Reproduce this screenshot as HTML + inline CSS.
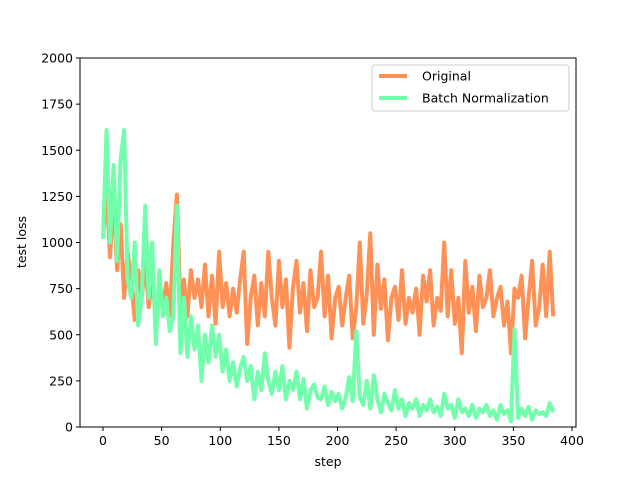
<!DOCTYPE html>
<html><head><meta charset="utf-8"><style>
body{margin:0;background:#fff}
svg{font-family:"DejaVu Sans","Liberation Sans",sans-serif}
</style></head><body>
<svg id="chart" width="640" height="480" xmlns="http://www.w3.org/2000/svg">
<rect width="640" height="480" fill="#fff"/>
<g id="plot"></g>
<g id="axes"></g>
</svg>
<script>
const steps = [];
for (let s = 0; s <= 384; s += 3) steps.push(s);
const originalLoss = [1020,1300,920,1250,850,1100,700,950,800,580,850,700,900,650,800,600,750,650,780,600,1000,1260,650,800,600,850,700,800,650,880,600,820,560,950,650,780,600,750,620,800,950,450,700,820,550,780,600,950,700,550,900,650,800,430,750,900,620,780,520,850,650,700,950,600,820,480,700,760,550,700,820,480,650,1000,560,720,1050,500,880,640,800,470,700,760,580,850,560,700,620,750,500,820,680,850,550,700,630,1000,600,850,560,700,400,900,620,760,520,820,650,700,850,600,700,760,550,680,400,750,700,820,480,700,900,550,650,880,600,950,600];
const batchNormLoss = [1020,1610,1000,1420,900,1450,1610,800,700,1000,550,700,1200,700,1000,450,850,600,700,520,600,1200,400,700,380,600,420,550,250,500,350,550,380,500,300,420,250,350,220,320,380,250,330,150,300,200,400,250,180,300,200,330,150,250,200,300,150,260,100,200,230,160,150,220,120,190,140,180,100,160,270,140,520,160,120,250,100,280,150,80,180,130,90,200,100,150,60,130,100,150,60,120,90,150,80,110,60,180,100,120,50,150,80,100,60,120,50,100,80,120,60,90,40,120,70,90,30,530,50,100,60,110,40,90,70,80,60,130,80];
const xTicks = [0,50,100,150,200,250,300,350,400];
const yTicks = [0,250,500,750,1000,1250,1500,1750,2000];
const seriesNames = ["Original","Batch Normalization"];
const colors = ["#ff9156","#71ffab"];

const L=80,R=576,T=58,B=427;
const xs = v => 103 + v*(469/400);
const ys = v => B - v*(B-T)/2000;
const NS="http://www.w3.org/2000/svg";
function mk(tag, attrs, parent){const e=document.createElementNS(NS,tag);for(const k in attrs)e.setAttribute(k,attrs[k]);parent.appendChild(e);return e;}
const plot=document.getElementById('plot'), axes=document.getElementById('axes');

[originalLoss,batchNormLoss].forEach((arr,i)=>{
  const d=arr.map((v,j)=>(j?'L':'M')+xs(steps[j]).toFixed(1)+','+ys(v).toFixed(1)).join('');
  const p=mk('path',{d:d,fill:'none',stroke:colors[i],'stroke-width':4,'stroke-linejoin':'round'},plot);
  
  
});

const frame=mk('rect',{x:L,y:T,width:R-L,height:B-T,fill:'none',stroke:'#000','stroke-width':1},axes);



xTicks.forEach(t=>{
  const x=xs(t);
  mk('line',{x1:x,x2:x,y1:B,y2:B+4,stroke:'#000'},axes);
  const tx=mk('text',{x:x,y:B+18,'text-anchor':'middle','font-size':12.5},axes);
  tx.textContent=t;
  
  
});
yTicks.forEach(t=>{
  const y=ys(t);
  mk('line',{x1:L-4,x2:L,y1:y,y2:y,stroke:'#000'},axes);
  const tx=mk('text',{x:L-7,y:y+4.5,'text-anchor':'end','font-size':12.5},axes);
  tx.textContent=t;
  
  
});
const xl=mk('text',{x:328,y:466,'text-anchor':'middle','font-size':12.5},axes);
xl.textContent='step';


const yl=mk('text',{x:0,y:0,'text-anchor':'middle','font-size':12.5,transform:'translate(26,242) rotate(-90)'},axes);
yl.textContent='test loss';



const lg=mk('g',{},axes);


mk('rect',{x:372,y:65,width:197,height:46,rx:3,fill:'#fff','fill-opacity':0.8,stroke:'#ccc'},lg);
seriesNames.forEach((n,i)=>{
  const y=76+i*22;
  mk('line',{x1:379,x2:407,y1:y,y2:y,stroke:colors[i],'stroke-width':4},lg);
  const t=mk('text',{x:422,y:y+4.5,'font-size':12.5},lg);
  t.textContent=n;
  
  
});
</script>
</body></html>
